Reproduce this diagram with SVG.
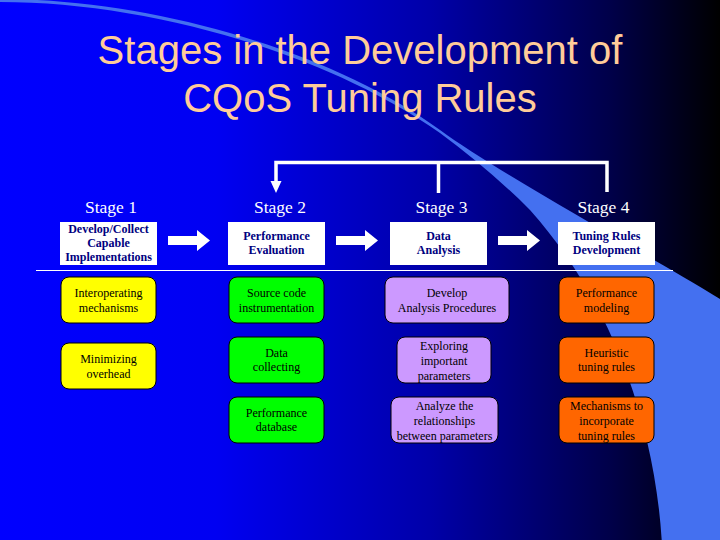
<svg xmlns="http://www.w3.org/2000/svg" width="720" height="540" viewBox="0 0 720 540">
<defs>
<linearGradient id="bg" x1="0" y1="0" x2="1" y2="0">
<stop offset="0" stop-color="#0000FF"/>
<stop offset="0.3" stop-color="#0000F2"/>
<stop offset="0.6" stop-color="#0000A8"/>
<stop offset="0.85" stop-color="#000048"/>
<stop offset="1" stop-color="#000000"/>
</linearGradient>
</defs>
<style>
.title{font-family:"Liberation Sans",Arial,sans-serif;font-size:40px;fill:#FFCC99;text-anchor:middle}
.stage{font-family:"Liberation Serif","Times New Roman",serif;font-size:17.5px;fill:#FFFFFF;text-anchor:middle}
.wbox{fill:#FFFFFF}
.wtxt{font-family:"Liberation Serif","Times New Roman",serif;font-size:12px;font-weight:bold;fill:#000080;text-anchor:middle}
.rtxt{font-family:"Liberation Serif","Times New Roman",serif;font-size:12px;fill:#000000;text-anchor:middle}
.rbox{stroke:#000000;stroke-width:1}
.yel{fill:#FFFF00}
.grn{fill:#00FF00}
.pur{fill:#CC99FF}
.org{fill:#FF6600}
.arrow{fill:#FFFFFF}
.fb{stroke:#FFFFFF;stroke-width:3.5;fill:none}
</style>
<rect x="0" y="0" width="720" height="540" fill="url(#bg)"/>
<path d="M0,-1 C150,-1 330,50 440,130 C500,174 640,250 725,302 L725,545 L662,545 C655,420 610,300 530,210 C500,180 470,155 440,133 C328,54 150,2 0,2 Z" fill="#4470F0"/>
<text class="title" x="360" y="64">Stages in the Development of</text>
<text class="title" x="360" y="112">CQoS Tuning Rules</text>
<line x1="36" y1="270.5" x2="673" y2="270.5" stroke="#FFFFFF" stroke-width="1"/>
<text class="stage" x="111" y="213">Stage 1</text>
<text class="stage" x="280" y="213">Stage 2</text>
<text class="stage" x="441.5" y="213">Stage 3</text>
<text class="stage" x="603.5" y="213">Stage 4</text>
<g id="connectors">
<polyline class="fb" points="276,183 276,162.5 607,162.5 607,192"/>
<line class="fb" x1="438.5" y1="162.5" x2="438.5" y2="193"/>
<polygon class="arrow" points="270.5,181 281.5,181 276,193"/>
<polygon class="arrow" points="168,236 197,236 197,230 210,240.5 197,251 197,245 168,245"/>
<polygon class="arrow" points="336,236 365,236 365,230 378,240.5 365,251 365,245 336,245"/>
<polygon class="arrow" points="498,236 527,236 527,230 540,240.5 527,251 527,245 498,245"/>
</g>
<g id="stage1">
<rect class="wbox" x="60" y="222" width="97" height="43"/>
<text class="wtxt" x="108.5" y="233">Develop/Collect</text>
<text class="wtxt" x="108.5" y="247">Capable</text>
<text class="wtxt" x="108.5" y="261">Implementations</text>
</g>
<g id="stage2">
<rect class="wbox" x="228" y="222" width="97" height="43"/>
<text class="wtxt" x="276.5" y="239.5">Performance</text>
<text class="wtxt" x="276.5" y="254">Evaluation</text>
</g>
<g id="stage3">
<rect class="wbox" x="390" y="222" width="97" height="43"/>
<text class="wtxt" x="438.5" y="239.5">Data</text>
<text class="wtxt" x="438.5" y="254">Analysis</text>
</g>
<g id="stage4">
<rect class="wbox" x="558" y="222" width="97" height="43"/>
<text class="wtxt" x="606.5" y="239.5">Tuning Rules</text>
<text class="wtxt" x="606.5" y="254">Development</text>
</g>
<g id="interop">
<rect class="rbox yel" x="61" y="277" width="95" height="46" rx="8"/>
<text class="rtxt" x="108.5" y="297">Interoperating</text>
<text class="rtxt" x="108.5" y="312">mechanisms</text>
</g>
<g id="minimizing">
<rect class="rbox yel" x="61" y="343" width="95" height="46" rx="8"/>
<text class="rtxt" x="108.5" y="363">Minimizing</text>
<text class="rtxt" x="108.5" y="377.5">overhead</text>
</g>
<g id="source">
<rect class="rbox grn" x="229" y="277" width="95" height="46" rx="8"/>
<text class="rtxt" x="276.5" y="297">Source code</text>
<text class="rtxt" x="276.5" y="312">instrumentation</text>
</g>
<g id="collecting">
<rect class="rbox grn" x="229" y="337" width="95" height="46" rx="8"/>
<text class="rtxt" x="276.5" y="356.5">Data</text>
<text class="rtxt" x="276.5" y="371">collecting</text>
</g>
<g id="database">
<rect class="rbox grn" x="229" y="397" width="95" height="46" rx="8"/>
<text class="rtxt" x="276.5" y="416.5">Performance</text>
<text class="rtxt" x="276.5" y="431">database</text>
</g>
<g id="procedures">
<rect class="rbox pur" x="385" y="277" width="124" height="46" rx="8"/>
<text class="rtxt" x="447" y="297">Develop</text>
<text class="rtxt" x="447" y="312">Analysis Procedures</text>
</g>
<g id="exploring">
<rect class="rbox pur" x="397" y="337" width="94" height="46" rx="8"/>
<text class="rtxt" x="444" y="350">Exploring</text>
<text class="rtxt" x="444" y="365">important</text>
<text class="rtxt" x="444" y="379.5">parameters</text>
</g>
<g id="relationships">
<rect class="rbox pur" x="391" y="397" width="107" height="46" rx="8"/>
<text class="rtxt" x="444.5" y="410">Analyze the</text>
<text class="rtxt" x="444.5" y="425">relationships</text>
<text class="rtxt" x="444.5" y="439.5">between parameters</text>
</g>
<g id="modeling">
<rect class="rbox org" x="559" y="277" width="95" height="46" rx="8"/>
<text class="rtxt" x="606.5" y="297">Performance</text>
<text class="rtxt" x="606.5" y="312">modeling</text>
</g>
<g id="heuristic">
<rect class="rbox org" x="559" y="337" width="95" height="46" rx="8"/>
<text class="rtxt" x="606.5" y="356.5">Heuristic</text>
<text class="rtxt" x="606.5" y="371">tuning rules</text>
</g>
<g id="mechanisms">
<rect class="rbox org" x="559" y="397" width="95" height="46" rx="8"/>
<text class="rtxt" x="606.5" y="410">Mechanisms to</text>
<text class="rtxt" x="606.5" y="425">incorporate</text>
<text class="rtxt" x="606.5" y="439.5">tuning rules</text>
</g>
</svg>
